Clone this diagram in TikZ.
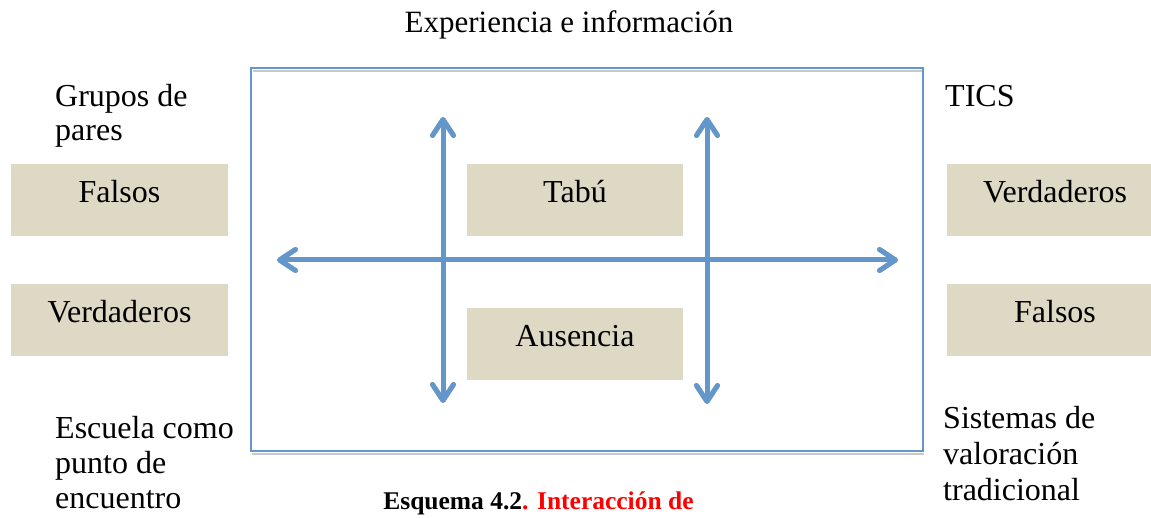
\documentclass[tikz,border=0pt]{standalone}
\usepackage{fontspec}
\setmainfont{Liberation Serif}
\usetikzlibrary{arrows.meta}
\definecolor{axisblue}{RGB}{99,150,203}
\definecolor{boxfill}{RGB}{222,217,196}
\definecolor{shadowgray}{RGB}{200,200,200}
\tikzset{
  lbl/.style={inner sep=0pt, anchor=north west, align=left, font=\fontsize{32}{36}\selectfont},
  cbox/.style={fill=boxfill, minimum height=72pt, inner sep=0pt, text height=39pt, text depth=33pt,
    font=\fontsize{32}{36}\selectfont},
  axis/.style={draw=axisblue, line width=5pt, line cap=round,
    {Straight Barb[length=16pt,width=21pt,round]}-{Straight Barb[length=16pt,width=21pt,round]}},
  axisshadow/.style={draw=shadowgray, line width=5pt, line cap=round,
    {Straight Barb[length=16pt,width=21pt,round]}-{Straight Barb[length=16pt,width=21pt,round]}},
}
\begin{document}
\begin{tikzpicture}[x=1pt,y=-1pt]
\useasboundingbox (0,0) rectangle (1151,518);
% frame
\draw[shadowgray, line width=2pt] (253,71) -- (922,71);
\draw[shadowgray, line width=2pt] (252,454) -- (924,454);
\draw[axisblue, line width=1.6pt] (251,68) rectangle (923,451);
% axes coordinates
\coordinate (vlt) at (443,117);
\coordinate (vlb) at (443,403);
\coordinate (vrt) at (707,117);
\coordinate (vrb) at (707,404);
\coordinate (hl) at (277,260);
\coordinate (hr) at (898,260);
% shadows
\begin{scope}[shift={(1.5pt,-2.5pt)}]
\draw[axisshadow] (vlb) -- (vlt);
\draw[axisshadow] (vrb) -- (vrt);
\draw[axisshadow] (hl) -- (hr);
\end{scope}
% boxes inside
\node[cbox, minimum width=216pt] (tabu) at (575,200) {Tabú};
\node[cbox, minimum width=216pt] (aus) at (575,344) {Ausencia};
% axes
\draw[axis] (vlb) -- (vlt);
\draw[axis] (vrb) -- (vrt);
\draw[axis] (hl) -- (hr);
% side boxes
\node[cbox, minimum width=217pt] (lf) at (119.5,200) {Falsos};
\node[cbox, minimum width=217pt] (lv) at (119.5,320) {Verdaderos};
\node[cbox, minimum width=204pt] (rv) at (1049,200) {\hspace*{12pt}Verdaderos};
\node[cbox, minimum width=204pt] (rf) at (1049,320) {\hspace*{12pt}Falsos};
% labels
\node[inner sep=0pt, anchor=base, font=\fontsize{31}{36}\selectfont] (top) at (569,33) {Experiencia e información};
\node[lbl, font=\fontsize{32}{34}\selectfont] (gp) at (55,84) {Grupos de\\pares};
\node[inner sep=0pt, anchor=base west, font=\fontsize{32}{36}\selectfont] (tics) at (945,107) {TICS};
\node[lbl, font=\fontsize{32}{35}\selectfont] (esc) at (55,416) {Escuela como\\punto de\\encuentro};
\node[lbl] (sis) at (943,406) {Sistemas de\\valoración\\tradicional};
\node[inner sep=0pt, anchor=base, font=\fontsize{25.5}{28}\selectfont\bfseries] (cap) at (538.5,509)
  {Esquema 4.2\textcolor{red}{. Interacción de}};
\end{tikzpicture}
\end{document}
